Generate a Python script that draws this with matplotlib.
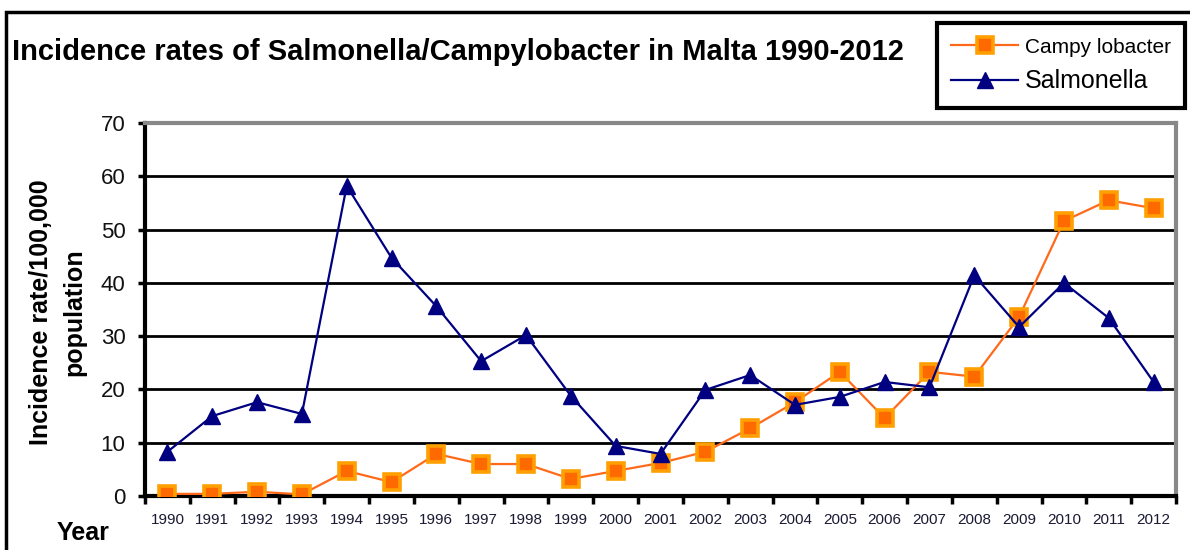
import matplotlib
matplotlib.use("Agg")
import matplotlib.pyplot as plt
from matplotlib.patches import Rectangle
import numpy as np

years = [str(y) for y in range(1990, 2013)]
campylobacter = [0.4, 0.4, 0.8, 0.3, 4.7, 2.6, 7.9, 6.0, 6.0, 3.2, 4.7, 6.2,
                 8.3, 12.7, 17.6, 23.3, 14.6, 23.3, 22.4, 33.6, 51.6, 55.5, 54.0]
salmonella = [8.3, 15.0, 17.6, 15.4, 58.2, 44.7, 35.6, 25.3, 30.2, 18.8, 9.4, 7.9,
              19.9, 22.7, 17.1, 18.6, 21.4, 20.4, 41.4, 31.7, 40.0, 33.4, 21.4]
y_ticks = [0, 10, 20, 30, 40, 50, 60, 70]

plt.rcParams['font.family'] = ['Liberation Sans', 'DejaVu Sans']

fig = plt.figure(figsize=(11.9, 5.5), dpi=100)
ax = fig.add_axes([145 / 1190, 1 - 496 / 550, 1031 / 1190, 373 / 550])

x = np.arange(len(years))
ax.plot(x, campylobacter, color='#FF6A1A', lw=1.6, marker='s', ms=11,
        mfc='#FF6A00', mec='#FFA000', mew=2.6, label='Campy lobacter', zorder=3)
ax.plot(x, salmonella, color='#000080', lw=1.6, marker='^', ms=11,
        mfc='#000080', mec='#000080', label='Salmonella', zorder=4)

ax.set_xlim(-0.5, len(years) - 0.5)
ax.set_ylim(0, 70)
ax.set_yticks(y_ticks)
ax.set_yticklabels([str(v) for v in y_ticks], fontsize=16, color='#111111')
ax.yaxis.grid(True, color='black', lw=2)
ax.set_axisbelow(True)

# ticks at category boundaries, labels at centres
ax.set_xticks(np.arange(-0.5, len(years)), minor=False)
ax.set_xticklabels([])
ax.set_xticks(x, minor=True)
ax.set_xticklabels(years, minor=True, fontsize=11, color='#1a1a33')
ax.tick_params(axis='x', which='major', length=6, width=2.5, direction='out')
ax.tick_params(axis='x', which='minor', length=0, pad=12)
ax.tick_params(axis='y', length=5, width=2.5, pad=9)

for side in ['left', 'bottom']:
    ax.spines[side].set_color('black')
    ax.spines[side].set_linewidth(3)
for side in ['top', 'right']:
    ax.spines[side].set_color('#888888')
    ax.spines[side].set_linewidth(3)

fig.text(58 / 1190, 1 - 312 / 550, 'Incidence rate/100,000\npopulation',
         fontsize=18, fontweight='bold', rotation=90, ha='center', va='center',
         linespacing=1.5, multialignment='center')
fig.text(57 / 1190, 1 - 533 / 550, 'Year', fontsize=18, fontweight='bold',
         ha='left', va='center')
fig.text(12 / 1190, 1 - 52 / 550,
         'Incidence rates of Salmonella/Campylobacter in Malta 1990-2012',
         fontsize=21, fontweight='bold', ha='left', va='center')

leg = fig.legend(loc='upper left', bbox_to_anchor=(937 / 1190, 1 - 23 / 550),
                 fancybox=False, edgecolor='black', framealpha=1, fontsize=16,
                 handlelength=3.0, borderpad=0.65, labelspacing=0.55,
                 handletextpad=0.3, borderaxespad=0)
leg.get_frame().set_linewidth(3)
leg.get_texts()[0].set_fontsize(15)
leg.get_texts()[1].set_fontsize(18)

fig.add_artist(Rectangle((6 / 1190, -0.1), 1.2, 1.1 - 12 / 550,
                         transform=fig.transFigure, fill=False,
                         edgecolor='black', lw=2.5))

fig.savefig('out.png', dpi=100)
